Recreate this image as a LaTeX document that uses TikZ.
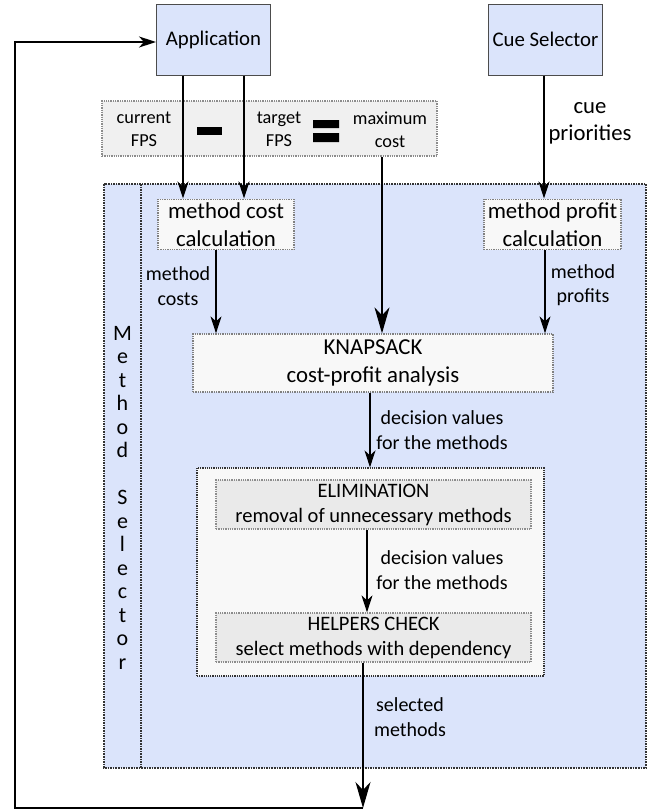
\documentclass[tikz,border=0pt]{standalone}
\usepackage{fontspec}
\setmainfont{Carlito}
\usetikzlibrary{arrows.meta}
\definecolor{selblue}{RGB}{219,228,251}
\definecolor{boxwhite}{RGB}{248,248,248}
\definecolor{fpsgray}{RGB}{240,240,240}
\definecolor{stepgray}{RGB}{234,234,234}

\tikzset{
  topbox/.style={draw=black!70, fill=selblue, line width=1pt, minimum width=114, minimum height=71,
    font=\fontsize{20.8}{25}\selectfont},
  fpsbox/.style={draw=black!45, densely dotted, fill=fpsgray},
  fpstext/.style={align=center, font=\fontsize{18.3}{23}\selectfont},
  calcbox/.style={draw=black!50, densely dotted, fill=boxwhite, align=center, minimum height=49,
    font=\fontsize{22.8}{28}\selectfont},
  groupbox/.style={draw=black!80, densely dotted, line width=1.2pt, fill=boxwhite},
  stepbox/.style={draw=black!45, densely dotted, fill=stepgray, align=center, minimum width=315,
    minimum height=49, font=\fontsize{20.5}{25}\selectfont},
  frame/.style={draw=black!80, densely dotted, line width=1.6pt},
  lbl/.style={align=center, font=\fontsize{20}{24.5}\selectfont},
  big/.style={-{Stealth[length=26pt,width=15pt,inset=8pt]}},
}

\begin{document}
\begin{tikzpicture}[x=1pt, y=-1pt, line width=1.3pt, >={Stealth[length=17pt,width=11pt,inset=5pt]}]
\useasboundingbox (0,0) rectangle (657,811);
\draw [frame, fill=selblue] (104,184) rectangle (646,768);
\draw [frame] (141,184) -- (141,768);
\node [align=center, font=\fontsize{22}{23.5}\selectfont] (ms) at (122.5,497.5)
  {M\\e\\t\\h\\o\\d\\[23.5pt]S\\e\\l\\e\\c\\t\\o\\r};

\node [topbox] (app) at (213.5,39.5) {Application};
\node [topbox] (cue) at (545.5,39.5) {Cue Selector};

\node [fpsbox, minimum width=335, minimum height=55] (fps) at (269.5,128.5) {};
\node [fpstext] (cur) at (144,129.5) {current\\FPS};
\node [fpstext] (tgt) at (279,129.5) {target\\FPS};
\node [fpstext] (maxc) at (390,129.5) {maximum\\cost};
\fill (197,127) rectangle (222,135);
\fill (313,120) rectangle (339,128) (313,133) rectangle (339,142);

\node [calcbox, minimum width=136] (cost) at (226,224.5) {method cost\\calculation};
\node [calcbox, minimum width=137] (profit) at (552.5,224.5) {method profit\\calculation};
\node [calcbox, minimum width=360, minimum height=58] (knap) at (373,363) {KNAPSACK\\cost-profit analysis};
\node [groupbox, minimum width=347, minimum height=208] (grp) at (370.5,572) {};
\node [stepbox] (elim) at (373.5,504.5) {ELIMINATION\\removal of unnecessary methods};
\node [stepbox] (help) at (373.5,637.5) {HELPERS CHECK\\select methods with dependency};

\node [lbl, font=\fontsize{22.7}{27}\selectfont] (prio) at (590,123) {cue\\priorities};
\node [lbl] (mcosts) at (178,286) {method\\costs};
\node [lbl] (mprofits) at (583,285) {method\\profits};
\node [lbl] (dv1) at (442,430) {decision values\\for the methods};
\node [lbl] (dv2) at (442,570) {decision values\\for the methods};
\node [lbl] (sel) at (410,717) {selected\\methods};

\foreach \x in {183,244}
  \draw [->] (app.south -| \x,0) -- (cost.north -| \x,0);
\draw [->] (cue.south -| 544,0) -- (profit.north -| 544,0);
\draw [big] (fps.south -| 382,0) -- (knap.north -| 382,0);
\draw [->] (cost.south -| 216,0) -- (knap.north -| 216,0);
\draw [->] (profit.south -| 545,0) -- (knap.north -| 545,0);
\draw [->] (knap.south -| 370,0) -- (grp.north -| 370,0);
\draw [->] (elim.south -| 367,0) -- (help.north -| 367,0);
\draw [big] (help.south -| 363,0) -- (363,808) coordinate (back);
\draw [->, line width=1.6pt] (back) -| (15,42) -- (app.west |- 0,42);
\end{tikzpicture}
\end{document}
